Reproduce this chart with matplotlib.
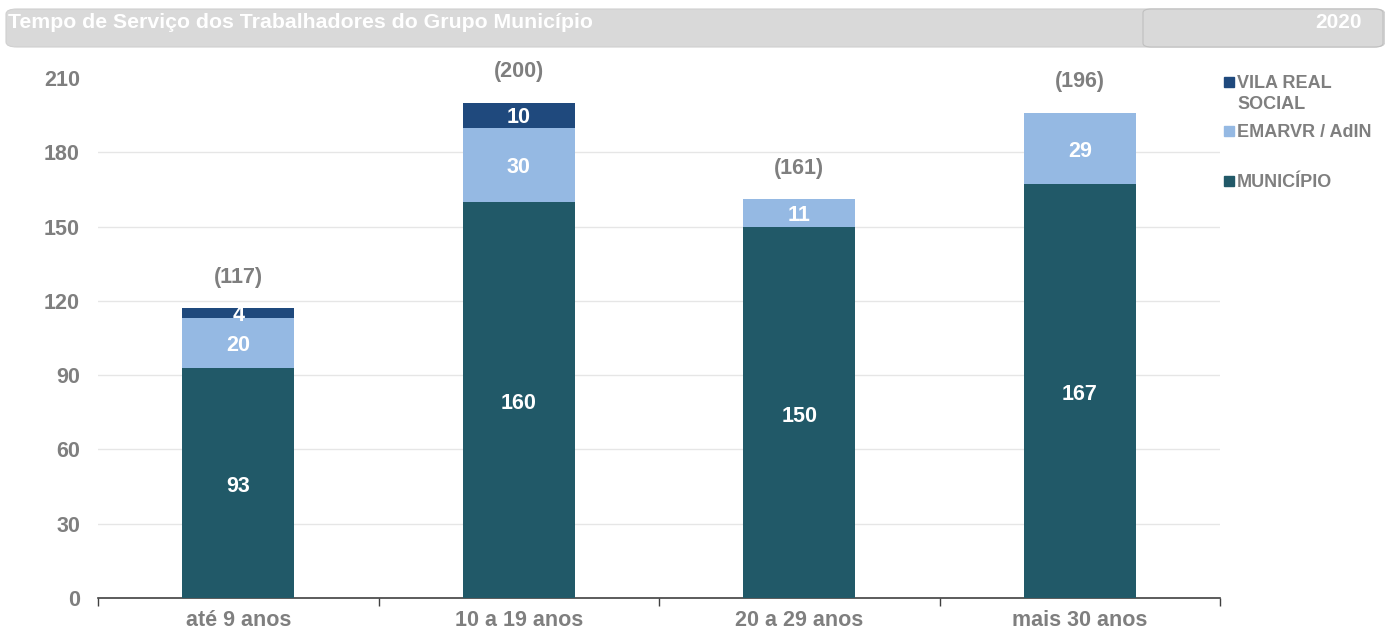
import matplotlib
matplotlib.use("Agg")
import matplotlib.pyplot as plt
from matplotlib.patches import FancyBboxPatch, Rectangle
import numpy as np

categories = ["até 9 anos", "10 a 19 anos", "20 a 29 anos", "mais 30 anos"]
municipio = [93, 160, 150, 167]
emarvr = [20, 30, 11, 29]
vila_real = [4, 10, 0, 0]
totals = [117, 200, 161, 196]
series_names = ["VILA REAL\nSOCIAL", "EMARVR / AdIN", "MUNICÍPIO"]
title = "Tempo de Serviço dos Trabalhadores do Grupo Município"
year = "2020"

C_MUN = "#215968"
C_EMA = "#95B9E3"
C_VRS = "#1F497D"
GRAY = "#7F7F7F"

plt.rcParams['font.family'] = ['Liberation Sans', 'DejaVu Sans']

fig = plt.figure(figsize=(13.85, 6.3), dpi=100)
ax = fig.add_axes([98/1385, 1-598/630, (1220-98)/1385, (598-78)/630])

x = np.arange(len(categories))
w = 0.4
ax.bar(x, municipio, w, color=C_MUN, zorder=3)
ax.bar(x, emarvr, w, bottom=municipio, color=C_EMA, zorder=3)
bot3 = [m + e for m, e in zip(municipio, emarvr)]
ax.bar(x, vila_real, w, bottom=bot3, color=C_VRS, zorder=3)

FS = 15.5
for i in range(len(categories)):
    ax.text(x[i], municipio[i] / 2 - 1.5, str(municipio[i]), ha='center', va='center',
            color='white', fontsize=FS, fontweight='bold', zorder=4)
    if emarvr[i]:
        ax.text(x[i], municipio[i] + emarvr[i] / 2 - 1, str(emarvr[i]), ha='center', va='center',
                color='white', fontsize=FS, fontweight='bold', zorder=4)
    if vila_real[i]:
        ax.text(x[i], bot3[i] + vila_real[i] / 2 - 1, str(vila_real[i]), ha='center', va='center',
                color='white', fontsize=FS, fontweight='bold', zorder=4)
    ax.text(x[i], totals[i] + 12.5, "(%d)" % totals[i], ha='center', va='center',
            color=GRAY, fontsize=FS, fontweight='bold', zorder=4)

ax.set_xlim(-0.5, len(categories) - 0.5)
ax.set_ylim(0, 210)
ax.set_yticks(np.arange(0, 211, 30))
ax.set_xticks(x)
ax.set_xticklabels(categories)
ax.set_xticks(np.arange(-0.5, len(categories), 1), minor=True)
ax.tick_params(axis='x', which='major', length=0, pad=9, labelsize=FS, labelcolor=GRAY)
ax.tick_params(axis='x', which='minor', length=6, width=1, color='#404040')
ax.tick_params(axis='y', length=0, pad=13, labelsize=FS, labelcolor=GRAY)
for lab in ax.get_xticklabels() + ax.get_yticklabels():
    lab.set_fontweight('bold')
ax.yaxis.grid(True, color='#E6E6E6', linewidth=1, zorder=0)
ax.get_ygridlines()[-1].set_visible(False)
ax.get_ygridlines()[0].set_visible(False)
for s in ['top', 'right', 'left']:
    ax.spines[s].set_visible(False)
ax.spines['bottom'].set_color('#404040')
ax.spines['bottom'].set_linewidth(1.2)

# legend
items = [(C_VRS, series_names[0], 85, 77), (C_EMA, series_names[1], 134, 126),
         (C_MUN, series_names[2], 184, 176)]
for col, name, ypx, sq in items:
    fig.patches.append(Rectangle((1224/1385, 1-(sq+10)/630), 10/1385, 10/630,
                                 transform=fig.transFigure, color=col, figure=fig))
    fig.text(1237/1385, 1-(ypx-10)/630, name, ha='left', va='top', fontsize=13,
             fontweight='bold', color=GRAY, linespacing=1.3)

# title bar
fig.patches.append(FancyBboxPatch((6/1385, 1-47/630), 1379/1385, 38/630,
                                  boxstyle="round,pad=0,rounding_size=0.008",
                                  transform=fig.transFigure, facecolor='#D9D9D9',
                                  edgecolor='#D0D0D0', linewidth=0.8, figure=fig))
fig.patches.append(FancyBboxPatch((1143/1385, 1-47/630), 240/1385, 38/630,
                                  boxstyle="round,pad=0,rounding_size=0.006",
                                  transform=fig.transFigure, facecolor='#D9D9D9',
                                  edgecolor='#BFBFBF', linewidth=0.8, figure=fig))
fig.text(8/1385, 1-22/630, title, ha='left', va='center', fontsize=15.3,
         fontweight='bold', color='white')
fig.text(1362/1385, 1-22/630, year, ha='right', va='center', fontsize=15,
         fontweight='bold', color='white')

fig.savefig("out.png", dpi=100)
